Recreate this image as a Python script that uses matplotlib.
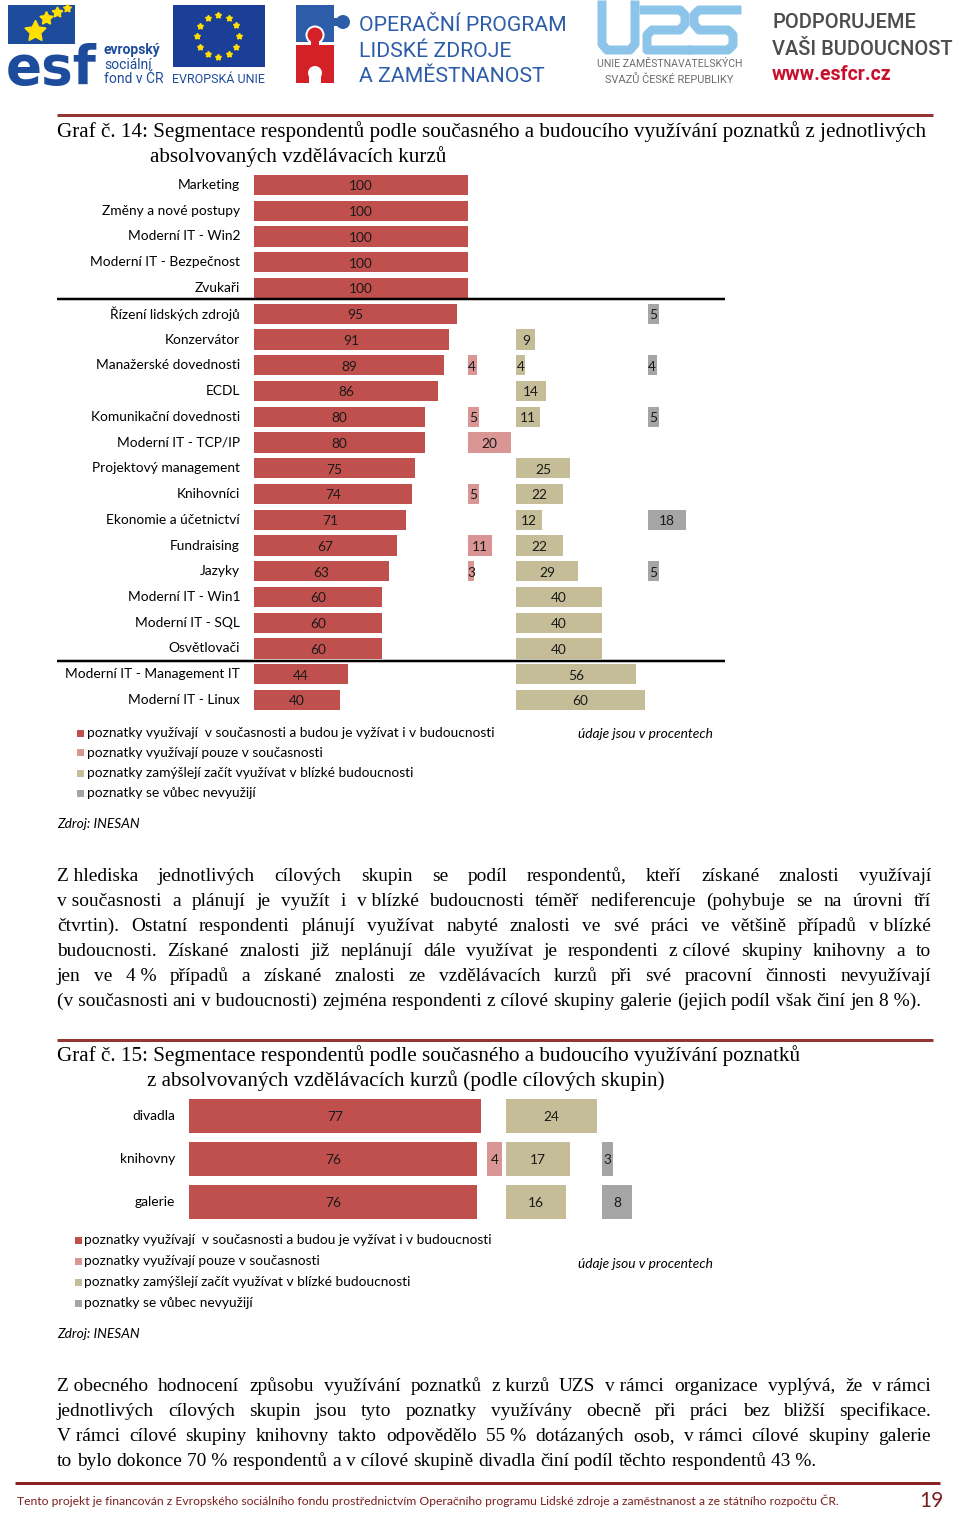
import matplotlib
matplotlib.use('Agg')
import matplotlib.pyplot as plt
from matplotlib.patches import Rectangle, Circle
from matplotlib.lines import Line2D
import numpy as np

# ---------------- data ----------------
cats1 = ["Marketing", "Změny a nové postupy", "Moderní IT - Win2", "Moderní IT - Bezpečnost",
         "Zvukaři", "Řízení lidských zdrojů", "Konzervátor", "Manažerské dovednosti", "ECDL",
         "Komunikační dovednosti", "Moderní IT - TCP/IP", "Projektový management", "Knihovníci",
         "Ekonomie a účetnictví", "Fundraising", "Jazyky", "Moderní IT - Win1", "Moderní IT - SQL",
         "Osvětlovači", "Moderní IT - Management IT", "Moderní IT - Linux"]
both1 = [100, 100, 100, 100, 100, 95, 91, 89, 86, 80, 80, 75, 74, 71, 67, 63, 60, 60, 60, 44, 40]
now1 = [0, 0, 0, 0, 0, 0, 0, 4, 0, 5, 20, 0, 5, 0, 11, 3, 0, 0, 0, 0, 0]
future1 = [0, 0, 0, 0, 0, 0, 9, 4, 14, 11, 0, 25, 22, 12, 22, 29, 40, 40, 40, 56, 60]
never1 = [0, 0, 0, 0, 0, 5, 0, 4, 0, 5, 0, 0, 0, 18, 0, 5, 0, 0, 0, 0, 0]

cats2 = ["divadla", "knihovny", "galerie"]
both2 = [77, 76, 76]
now2 = [0, 4, 0]
future2 = [24, 17, 16]
never2 = [0, 3, 8]

legend_labels = ["poznatky využívají  v současnosti a budou je vyžívat i v budoucnosti",
                 "poznatky využívají pouze v současnosti",
                 "poznatky zamýšlejí začít využívat v blízké budoucnosti",
                 "poznatky se vůbec nevyužijí"]

# ---------------- style ----------------
RED, PINK, TAN, GRAY = '#C0504D', '#D99694', '#C4BD97', '#A5A5A5'
COLORS = [RED, PINK, TAN, GRAY]
WINE = '#943634'
SANS = 'Lato'
SERIF = 'Liberation Serif'

W, H = 960, 1515
fig = plt.figure(figsize=(W / 100, H / 100), dpi=100)
fig.patch.set_facecolor('white')
R = fig.canvas.get_renderer()


def fx(x):
    return x / W


def fy(y):
    return 1 - y / H


def T(x, y, s, **kw):
    return fig.text(fx(x), fy(y), s, **kw)


def measure(s, size=10, **kw):
    t = fig.text(0, 0, s, fontsize=size, **kw)
    w = t.get_window_extent(R).width
    t.remove()
    return w


def fit(s, target, **kw):
    return 10 * target / measure(s, 10, **kw)


def hline(x0, x1, y, color, lw_px):
    fig.add_artist(Line2D([fx(x0), fx(x1)], [fy(y), fy(y)], transform=fig.transFigure,
                          color=color, lw=lw_px * 0.72, solid_capstyle='butt'))


def justify(lines, x0, x1, y0, lh, size, family, color='black'):
    sp_nat = measure('a a', size, family=family) - measure('aa', size, family=family)
    for li, line in enumerate(lines):
        words = line.split(' ')
        y = y0 + li * lh
        texts, widths = [], []
        for w in words:
            t = T(0, y, w, fontsize=size, family=family, va='baseline', color=color)
            widths.append(t.get_window_extent(R).width)
            texts.append(t)
        if li == len(lines) - 1 or len(words) == 1:
            sp = sp_nat
        else:
            sp = (x1 - x0 - sum(widths)) / (len(words) - 1)
        x = x0
        for t, w in zip(texts, widths):
            t.set_x(fx(x))
            x += w + sp


# ---------------- header logos ----------------
hax = fig.add_axes([0, fy(95), 1, 95 / H])
hax.set_xlim(0, W)
hax.set_ylim(95, 0)
hax.axis('off')
ESFB = '#1E4C9C'
# esf
hax.add_patch(Rectangle((8, 5), 67, 39, color=ESFB, lw=0))
s = fit('esf', 91, family='DejaVu Sans', weight='bold')
hax.text(6, 84, 'esf', fontsize=s * 1.0, family='DejaVu Sans', weight='bold', color=ESFB, va='baseline')
for (sx, sy, ms) in [(35, 31, 16), (46, 18, 10), (57, 12, 8), (67, 8, 6)]:
    hax.plot(sx, sy, marker=(5, 1, 0), ms=ms, color='#FFE000', mec='#FFE000')
for txt, yy, wt in [('evropský', 54, 'bold'), ('sociální', 69, 'normal'), ('fond v ČR', 83, 'normal')]:
    hax.text(104, yy, txt, fontsize=10, family='Roboto', weight=wt, color=ESFB, va='baseline')
# EU flag
hax.add_patch(Rectangle((173, 5), 92, 62, color='#1B3F97', lw=0))
ang = np.linspace(0, 2 * np.pi, 13)[:-1]
hax.plot(218 + 21 * np.cos(ang), 36 + 21 * np.sin(ang), ls='none', marker=(5, 1, 0), ms=4.5,
         color='#FFE000', mec='#FFE000')
hax.text(172, 83, 'EVROPSKÁ UNIE', fontsize=fit('EVROPSKÁ UNIE', 93, family='Roboto'),
         family='Roboto', color=ESFB, va='baseline')
# OP LZZ puzzle
OPB, OPR = '#2D5DA8', '#D42027'
hax.add_patch(Rectangle((296, 5), 38, 37, color=OPB, lw=0))
hax.add_patch(Rectangle((333, 18), 5, 8, color=OPB, lw=0))
hax.add_patch(Circle((343, 22), 7, color=OPB, lw=0))
hax.add_patch(Rectangle((296, 45), 38, 38, color=OPR, lw=0))
hax.add_patch(Circle((315, 35), 9.5, color='white', lw=0))
hax.add_patch(Circle((315, 35), 7.5, color=OPR, lw=0))
hax.add_patch(Rectangle((311, 40), 8, 6, color=OPR, lw=0))
hax.add_patch(Circle((315, 73), 7, color='white', lw=0))
hax.add_patch(Rectangle((309, 73), 12, 11, color='white', lw=0))
szop = fit('OPERAČNÍ PROGRAM', 207, family='Roboto')
for txt, yy in [('OPERAČNÍ PROGRAM', 31), ('LIDSKÉ ZDROJE', 57), ('A ZAMĚSTNANOST', 82)]:
    hax.text(359, yy, txt, fontsize=szop, family='Roboto', color=OPB, va='baseline')
# UZS
UZ = '#8CC4EA'
lwz = 9 * 0.72
hax.plot([602, 602, 607, 630, 635, 635], [5, 44, 50, 50, 44, 5], color=UZ, lw=lwz, solid_joinstyle='round')
hax.plot([644, 680, 685, 685, 680, 652, 647, 647, 688], [10, 10, 15, 24, 30, 30, 35, 50, 50],
         color=UZ, lw=lwz, solid_joinstyle='round')
hax.plot([737, 699, 694, 694, 699, 728, 733, 733, 728, 692], [10, 10, 15, 24, 30, 30, 35, 45, 50, 50],
         color=UZ, lw=lwz, solid_joinstyle='round')
hax.text(597, 67, 'UNIE ZAMĚSTNAVATELSKÝCH', fontsize=fit('UNIE ZAMĚSTNAVATELSKÝCH', 145, family='Roboto'),
         family='Roboto', color='#6E6E6E', va='baseline')
hax.text(669, 83, 'SVAZŮ ČESKÉ REPUBLIKY', fontsize=fit('SVAZŮ ČESKÉ REPUBLIKY', 128, family='Roboto'),
         family='Roboto', color='#6E6E6E', va='baseline', ha='center')
szp = fit('VAŠI BUDOUCNOST', 181, family='Roboto', weight='medium')
hax.text(772, 28, 'PODPORUJEME', fontsize=szp, family='Roboto', weight='medium', color='#4D4D4D', va='baseline')
hax.text(772, 55, 'VAŠI BUDOUCNOST', fontsize=szp, family='Roboto', weight='medium', color='#4D4D4D', va='baseline')
hax.text(772, 80, 'www.esfcr.cz', fontsize=fit('www.esfcr.cz', 120, family='Roboto', weight='bold'),
         family='Roboto', weight='bold', color='#C8102E', va='baseline')

# ---------------- titles ----------------
hline(57, 933, 115, WINE, 3)
hline(57, 933, 1040, WINE, 3)
t1a = "Graf č. 14: Segmentace respondentů podle současného a budoucího využívání poznatků z jednotlivých"
szt = fit(t1a, 869, family=SERIF)
T(57, 137, t1a, fontsize=szt, family=SERIF, va='baseline')
T(150, 162, "absolvovaných vzdělávacích kurzů", fontsize=szt, family=SERIF, va='baseline')
T(57, 1061, "Graf č. 15: Segmentace respondentů podle současného a budoucího využívání poznatků",
  fontsize=szt, family=SERIF, va='baseline')
T(147, 1086, "z absolvovaných vzdělávacích kurzů (podle cílových skupin)", fontsize=szt, family=SERIF,
  va='baseline')

# ---------------- chart 1 ----------------
SZC = fit("Moderní IT - Management IT", 174, family=SANS)
px1 = 2.14
y_top, step1 = 185, 25.75
n1 = len(cats1)
ax1 = fig.add_axes([fx(254), fy(y_top + (n1 - 0.5) * step1), (725 - 254) / W, n1 * step1 / H])
ax1.set_xlim(0, (725 - 254) / px1)
ax1.set_ylim(n1 - 0.5, -0.5)
ax1.axis('off')
offs1 = [0, 100, 122.5, 184.1]
ys1 = np.arange(n1)
for series, off, col in zip([both1, now1, future1, never1], offs1, COLORS):
    vals = np.array(series, dtype=float)
    ax1.barh(ys1, vals, left=off, height=0.78, color=col, lw=0)
    for i, v in enumerate(series):
        if v > 0:
            ax1.text(off + v / 2, i + 0.05, str(v), ha='center', va='center', fontsize=SZC, family=SANS,
                     color='#1a1a1a')
for i, c in enumerate(cats1):
    ax1.text(-14 / px1, i, c, ha='right', va='center', fontsize=SZC, family=SANS, clip_on=False)
hline(57, 725, 299, 'black', 2.5)
hline(57, 725, 661, 'black', 2.5)

# legend 1
for k, (lab, col) in enumerate(zip(legend_labels, COLORS)):
    yy = 733 + 20 * k
    fig.add_artist(Rectangle((fx(77), fy(yy + 3.5)), 7 / W, 7 / H, transform=fig.transFigure,
                             color=col, lw=0))
    T(87, yy, lab, fontsize=SZC, family=SANS, va='center')
T(578, 734, "údaje jsou v procentech", fontsize=SZC, family=SANS, style='italic', va='center')
T(57, 824, "Zdroj: INESAN", fontsize=SZC, family=SANS, style='italic', va='center')

# ---------------- paragraph 1 ----------------
N = '\u00a0'
par1 = [
    f"Z{N}hlediska jednotlivých cílových skupin se podíl respondentů, kteří získané znalosti využívají",
    f"v{N}současnosti a plánují je využít i v{N}blízké budoucnosti téměř nediferencuje (pohybuje se na úrovni tří",
    f"čtvrtin). Ostatní respondenti plánují využívat nabyté znalosti ve své práci ve většině případů v{N}blízké",
    f"budoucnosti. Získané znalosti již neplánují dále využívat je respondenti z{N}cílové skupiny knihovny a to",
    f"jen ve 4{N}% případů a získané znalosti ze vzdělávacích kurzů při své pracovní činnosti nevyužívají",
    f"(v{N}současnosti ani v{N}budoucnosti) zejména respondenti z{N}cílové skupiny galerie (jejich podíl však činí jen 8{N}%).",
]
szb = fit(par1[-1].replace(N, ' '), 862, family=SERIF)
justify(par1, 57, 931, 881, 25, szb, SERIF)

# ---------------- chart 2 ----------------
px2 = 3.79
y2, step2 = 1116, 43
n2 = len(cats2)
ax2 = fig.add_axes([fx(189), fy(y2 + (n2 - 0.5) * step2), (700 - 189) / W, n2 * step2 / H])
ax2.set_xlim(0, (700 - 189) / px2)
ax2.set_ylim(n2 - 0.5, -0.5)
ax2.axis('off')
offs2 = [0, 78.6, 83.6, 109.0]
ys2 = np.arange(n2)
for series, off, col in zip([both2, now2, future2, never2], offs2, COLORS):
    ax2.barh(ys2, np.array(series, dtype=float), left=off, height=0.79, color=col, lw=0)
    for i, v in enumerate(series):
        if v > 0:
            ax2.text(off + v / 2, i + 0.03, str(v), ha='center', va='center', fontsize=SZC, family=SANS,
                     color='#1a1a1a')
for i, c in enumerate(cats2):
    ax2.text(-14 / px2, i, c, ha='right', va='center', fontsize=SZC, family=SANS, clip_on=False)

for k, (lab, col) in enumerate(zip(legend_labels, COLORS)):
    yy = 1240 + 21 * k
    fig.add_artist(Rectangle((fx(75), fy(yy + 3.5)), 7 / W, 7 / H, transform=fig.transFigure,
                             color=col, lw=0))
    T(84, yy, lab, fontsize=SZC, family=SANS, va='center')
T(578, 1264, "údaje jsou v procentech", fontsize=SZC, family=SANS, style='italic', va='center')
T(57, 1334, "Zdroj: INESAN", fontsize=SZC, family=SANS, style='italic', va='center')

# ---------------- paragraph 2 ----------------
par2 = [
    f"Z{N}obecného hodnocení způsobu využívání poznatků z{N}kurzů UZS v{N}rámci organizace vyplývá, že v{N}rámci",
    "jednotlivých cílových skupin jsou tyto poznatky využívány obecně při práci bez bližší specifikace.",
    f"V{N}rámci cílové skupiny knihovny takto odpovědělo 55{N}% dotázaných osob, v{N}rámci cílové skupiny galerie",
    f"to bylo dokonce 70{N}% respondentů a v{N}cílové skupině divadla činí podíl těchto respondentů 43{N}%.",
]
justify(par2, 57, 931, 1391, 25, szb, SERIF)

# ---------------- footer ----------------
hline(15, 940, 1483, '#8B2323', 3)
ft = "Tento projekt je financován z Evropského sociálního fondu prostřednictvím Operačního programu Lidské zdroje a zaměstnanost a ze státního rozpočtu ČR."
T(17, 1501, ft, fontsize=fit(ft, 819, family=SANS), family=SANS, color='#7B1F1F', va='center')
T(944, 1501, "19", fontsize=15, family=SANS, color='#7B1F1F', va='center', ha='right')

fig.savefig('out.png', dpi=100, facecolor='white')
